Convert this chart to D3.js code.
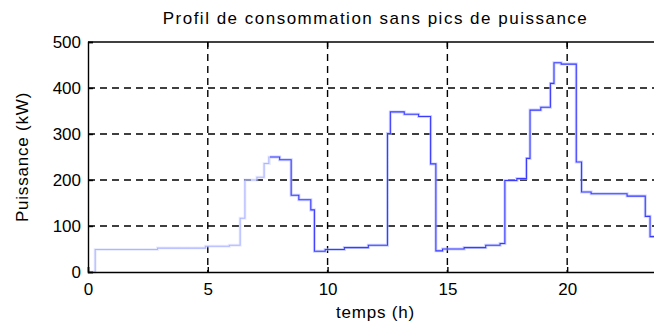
<!DOCTYPE html>
<html>
<head>
<meta charset="utf-8">
<script src="https://cdn.jsdelivr.net/npm/d3@7"></script>
<style>
  html, body { margin: 0; padding: 0; background: #fff; }
  svg { display: block; font-family: "Liberation Sans", Arial, sans-serif; }
</style>
</head>
<body>
<svg id="chart" width="654" height="327"></svg>
<script>
// Load profile: step changes (hour, kW), held until the next change
const hours = [0, 0.3, 2.9, 4.9, 5.9, 6.35, 6.55, 7.05, 7.35, 7.55, 8.0, 8.48, 8.8, 9.3, 9.45,
  9.9, 10.7, 11.7, 12.5, 12.62, 13.2, 13.8, 14.3, 14.52, 14.8, 15.7, 16.6, 17.2, 17.4, 17.9,
  18.3, 18.45, 18.9, 19.3, 19.45, 19.75, 20.38, 20.6, 21.0, 22.5, 23.26, 23.46, 24];
const power = [0, 49, 52, 56, 58, 117, 200, 206, 236, 250, 244, 167, 157, 135, 45,
  49, 53, 58, 301, 348, 343, 338, 235, 46, 50, 53, 58, 62, 199, 203,
  247, 352, 358, 410, 455, 452, 239, 174, 170, 165, 121, 77, 77];

const xTicks = [0, 5, 10, 15, 20];
const yTicks = [0, 100, 200, 300, 400, 500];
const gridX = [5, 10, 15, 20];
const gridY = [100, 200, 300, 400];

const titleText = "Profil de consommation sans pics de puissance";
const xLabel = "temps (h)";
const yLabel = "Puissance (kW)";

const svg = d3.select("#chart");
const mLeft = 88, mRight = 663, mTop = 42, mBottom = 272;

const x = d3.scaleLinear().domain([0, 24]).range([mLeft, mRight]);
const y = d3.scaleLinear().domain([0, 500]).range([mBottom, mTop]);

// stroke tones: pale during the night hours, full blue afterwards
const defs = svg.append("defs");
const split = (x(7.6) - x(0)) / (x(24) - x(0));
function toneGradient(id, early, late) {
  const g = defs.append("linearGradient").attr("id", id)
    .attr("gradientUnits", "userSpaceOnUse")
    .attr("x1", x(0)).attr("x2", x(24)).attr("y1", 0).attr("y2", 0);
  g.append("stop").attr("offset", 0).attr("stop-color", early[0]).attr("stop-opacity", early[1]);
  g.append("stop").attr("offset", split).attr("stop-color", early[0]).attr("stop-opacity", early[1]);
  g.append("stop").attr("offset", split).attr("stop-color", late[0]).attr("stop-opacity", late[1]);
  g.append("stop").attr("offset", 1).attr("stop-color", late[0]).attr("stop-opacity", late[1]);
}
toneGradient("lineTone", ["#aeb6ff", 1], ["#3c3cff", 1]);
toneGradient("haloTone", ["#c4caff", 0.35], ["#aab4ff", 0.6]);

// dashed grid
const grid = svg.append("g").attr("stroke", "#000").attr("stroke-width", 1.4)
  .attr("stroke-dasharray", "7,5");
grid.selectAll("line.gx").data(gridX).join("line").attr("class", "gx")
  .attr("x1", d => x(d)).attr("x2", d => x(d)).attr("y1", mTop).attr("y2", mBottom);
grid.selectAll("line.gy").data(gridY).join("line").attr("class", "gy")
  .attr("x1", mLeft).attr("x2", mRight).attr("y1", d => y(d)).attr("y2", d => y(d));

// data line with a soft halo
const pts = hours.map((h, i) => [h, power[i]]);
const line = d3.line().x(d => x(d[0])).y(d => y(d[1])).curve(d3.curveStepAfter);
svg.append("path").datum(pts).attr("d", line)
  .attr("fill", "none").attr("stroke", "url(#haloTone)").attr("stroke-width", 3);
svg.append("path").datum(pts).attr("d", line)
  .attr("fill", "none").attr("stroke", "url(#lineTone)").attr("stroke-width", 1.1);

// axes
const font = "'Liberation Sans', Arial, sans-serif";
const xAxis = d3.axisBottom(x).tickValues(xTicks).tickSize(-5).tickPadding(11);
const yAxis = d3.axisLeft(y).tickValues(yTicks).tickSize(-5).tickPadding(7);
const gx = svg.append("g").attr("transform", `translate(0,${mBottom})`).call(xAxis);
const gy = svg.append("g").attr("transform", `translate(${mLeft},0)`).call(yAxis);
[gx, gy].forEach(g => {
  g.select(".domain").attr("stroke", "#000").attr("stroke-width", 1.4);
  g.selectAll(".tick line").attr("stroke", "#000").attr("stroke-width", 1.4);
  g.selectAll(".tick text").attr("fill", "#000").style("font-size", "17px")
    .style("font-family", font);
});
// top frame with its ticks
svg.append("line").attr("x1", mLeft).attr("x2", mRight).attr("y1", mTop).attr("y2", mTop)
  .attr("stroke", "#000").attr("stroke-width", 1.4);
svg.append("g").selectAll("line").data(gridX).join("line")
  .attr("x1", d => x(d)).attr("x2", d => x(d)).attr("y1", mTop).attr("y2", mTop + 5)
  .attr("stroke", "#000").attr("stroke-width", 1.4);

// labels
svg.append("text").attr("x", (mLeft + mRight) / 2).attr("y", 24).attr("text-anchor", "middle")
  .style("font-size", "17px").style("letter-spacing", "1.5px").text(titleText);
svg.append("text").attr("x", (mLeft + mRight) / 2).attr("y", 318).attr("text-anchor", "middle")
  .style("font-size", "17px").style("letter-spacing", "0.8px").text(xLabel);
svg.append("text").attr("transform", `translate(28,${(mTop + mBottom) / 2}) rotate(-90)`)
  .attr("text-anchor", "middle").style("font-size", "17px").style("letter-spacing", "0.8px")
  .text(yLabel);
</script>
</body>
</html>
